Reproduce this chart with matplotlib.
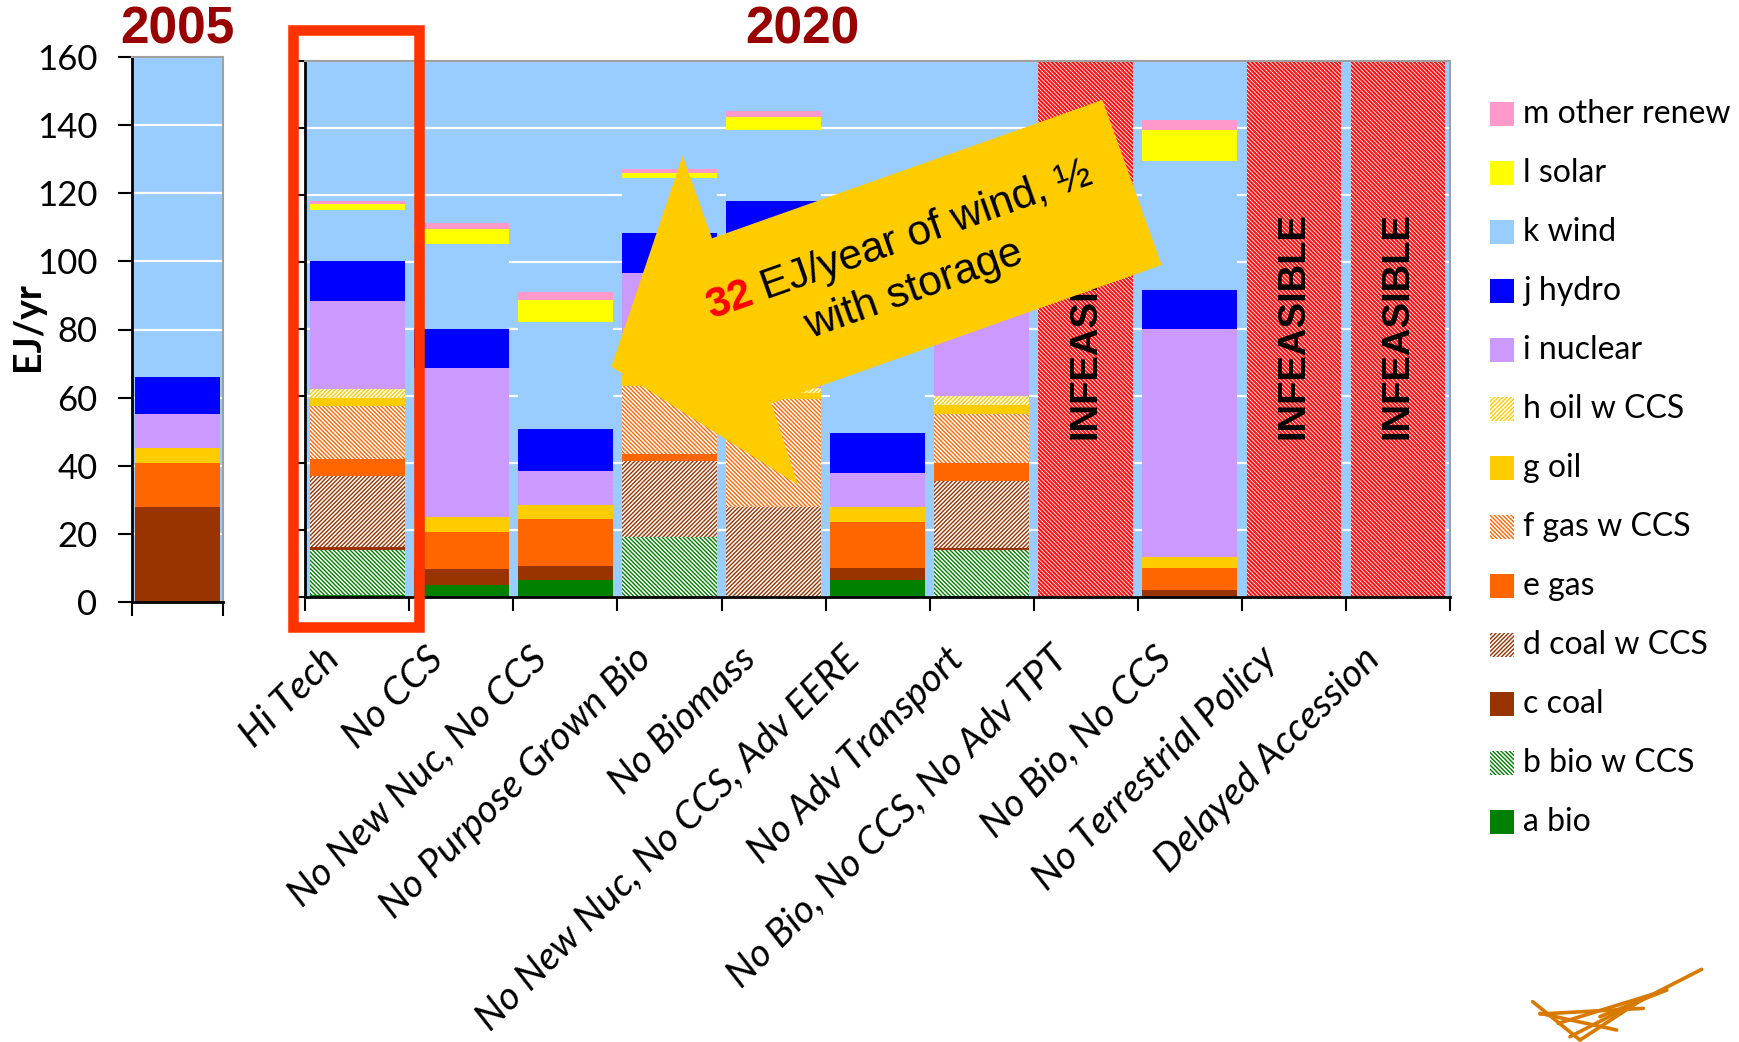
import numpy as np
import matplotlib
matplotlib.use("Agg")
import matplotlib.pyplot as plt
from matplotlib import patches, transforms
from matplotlib.lines import Line2D

# ---------------- data (EJ/yr) ----------------
scenarios = ["Hi Tech", "No CCS", "No New Nuc, No CCS", "No Purpose Grown Bio",
             "No Biomass", "No New Nuc, No CCS, Adv EERE", "No Adv Transport",
             "No Bio, No CCS, No Adv TPT", "No Bio, No CCS",
             "No Terrestrial Policy", "Delayed Accession"]
infeasible = [False, False, False, False, False, False, False, True, False, True, True]

sources = ["a bio", "b bio w CCS", "c coal", "d coal w CCS", "e gas", "f gas w CCS",
           "g oil", "h oil w CCS", "i nuclear", "j hydro", "k wind", "l solar",
           "m other renew"]

# 2005 mix, one value per source (bottom to top)
mix_2005 = [0.3, 0, 27.6, 0, 13.0, 0, 4.3, 0, 10.0, 10.9, 0, 0, 0]

# 2020 mix per source, one value per scenario
bio       = [0.5, 3.5, 5.0, 0, 0, 5.0, 0.3, 0, 0, 0, 0]
bio_ccs   = [13.3, 0, 0, 17.7, 0, 0, 13.7, 0, 0, 0, 0]
coal      = [1.1, 4.6, 4.2, 0, 0, 3.6, 0.4, 0, 2.0, 0, 0]
coal_ccs  = [21.0, 0, 0, 22.7, 26.7, 0, 20.0, 0, 0, 0, 0]
gas       = [5.2, 11.2, 14.0, 2.3, 0, 13.7, 5.4, 0, 6.6, 0, 0]
gas_ccs   = [15.8, 0, 0, 20.3, 32.2, 0, 14.8, 0, 0, 0, 0]
oil       = [2.5, 4.5, 4.2, 3.0, 2.0, 4.4, 2.5, 0, 3.3, 0, 0]
oil_ccs   = [2.7, 0, 0, 0, 1.5, 0, 2.8, 0, 0, 0, 0]
nuclear   = [26.2, 44.4, 10.2, 30.7, 43.6, 10.3, 28.5, 0, 67.9, 0, 0]
hydro     = [12.0, 11.8, 12.5, 11.9, 12.0, 11.9, 12.0, 0, 11.8, 0, 0]
wind      = [15.1, 25.2, 32.0, 16.2, 21.3, 28.0, 15.0, 0, 38.3, 0, 0]
solar     = [1.7, 4.4, 6.3, 1.7, 3.9, 5.5, 1.7, 0, 9.4, 0, 0]
other     = [1.1, 1.9, 2.6, 1.1, 1.8, 2.3, 1.1, 0, 3.0, 0, 0]
mix_2020 = [bio, bio_ccs, coal, coal_ccs, gas, gas_ccs, oil, oil_ccs,
            nuclear, hydro, wind, solar, other]

y_max = 160
y_ticks = [0, 20, 40, 60, 80, 100, 120, 140, 160]

# ---------------- styles ----------------
colors = ["#008000", "#008000", "#993300", "#993300", "#FF6600", "#FF6600",
          "#FFCC00", "#FFCC00", "#CC99FF", "#0000FF", "#99CCFF", "#FFFF00",
          "#FF99CC"]
hatches = [None, "\\" * 8, None, "/" * 8, None, "\\" * 8,
           None, "/" * 8, None, None, None, None, None]
BG = "#99CCFF"
W, H = 1740, 1042

plt.rcParams["hatch.linewidth"] = 1.0
fig = plt.figure(figsize=(W / 100, H / 100), dpi=100)
fig.patch.set_facecolor("white")


def fx(x):
    return x / W


def fy(y):
    return 1 - y / H


def style_axes(ax, ncat):
    ax.set_facecolor(BG)
    ax.set_ylim(0, y_max)
    ax.set_xlim(-0.5, ncat - 0.5)
    ax.set_yticks(y_ticks)
    ax.set_xticks(np.arange(-0.5, ncat, 1.0))
    ax.set_xticklabels([])
    ax.grid(axis="y", color="white", lw=1.6)
    ax.set_axisbelow(True)
    for s in ("left", "bottom"):
        ax.spines[s].set_color("black")
        ax.spines[s].set_linewidth(2)
    for s in ("top", "right"):
        ax.spines[s].set_color("#A0A0A0")
        ax.spines[s].set_linewidth(1.5)
    ax.tick_params(axis="both", direction="out", length=10, width=1.5,
                   color="black")


def draw_segment(ax, x, h, b, k, width):
    if h <= 0:
        return
    if hatches[k]:
        ax.bar(x, h, width, bottom=b, color="white", edgecolor=colors[k],
               hatch=hatches[k], linewidth=0, zorder=2)
    else:
        ax.bar(x, h, width, bottom=b, color=colors[k], linewidth=0, zorder=2)


# ---------------- 2005 panel ----------------
ax05 = fig.add_axes([fx(132.3), fy(602), fx(223.3 - 132.3), (602 - 57) / H])
style_axes(ax05, 1)
bottom = 0.0
for k, v in enumerate(mix_2005):
    draw_segment(ax05, 0, v, bottom, k, 0.93)
    bottom += v
ax05.set_yticklabels([str(t) for t in y_ticks], fontfamily="Lato",
                     fontsize=25)
ax05.tick_params(axis="y", pad=15)

# ---------------- 2020 panel ----------------
ax20 = fig.add_axes([fx(305.3), fy(596.6), fx(1450 - 305.3), (596.6 - 60.5) / H])
style_axes(ax20, len(scenarios))
ax20.set_yticklabels([])
xs = np.arange(len(scenarios))
bottoms = np.zeros(len(scenarios))
for k, series in enumerate(mix_2020):
    for i, v in enumerate(series):
        draw_segment(ax20, xs[i], v, bottoms[i], k, 0.91)
    bottoms += np.array(series)

plt.rcParams["hatch.linewidth"] = 0.6
for i, flag in enumerate(infeasible):
    if flag:
        ax20.bar(xs[i], y_max, 0.91, color="#FF1010", edgecolor="white",
                 hatch="\\" * 8, linewidth=0, zorder=2)
        ax20.text(xs[i], 81, "INFEASIBLE", rotation=90, ha="center",
                  va="center", fontfamily="Liberation Sans", fontweight="bold",
                  fontsize=27.5, color="black", zorder=3)

# category labels, rotated
lab_tr = ax20.get_xaxis_transform() + transforms.ScaledTranslation(
    0, -0.44, fig.dpi_scale_trans)
for i, name in enumerate(scenarios):
    ax20.text(xs[i] - 0.35, 0, name, transform=lab_tr, rotation=45,
              rotation_mode="anchor", ha="right", va="top",
              fontfamily="Lato", fontstyle="italic", fontsize=28,
              clip_on=False)

# ---------------- titles and axis label ----------------
fig.text(fx(177.5), fy(30), "2005", ha="center", va="center",
         fontfamily="Liberation Sans", fontweight="bold", fontsize=37,
         color="#990000")
fig.text(fx(802), fy(30), "2020", ha="center", va="center",
         fontfamily="Liberation Sans", fontweight="bold", fontsize=37,
         color="#990000")
fig.text(fx(28), fy(326.5), "EJ/yr", rotation=90, ha="center", va="center",
         fontfamily="Lato", fontweight="bold", fontsize=27)

# highlight box around the Hi Tech scenario
fig.patches.append(patches.Rectangle((fx(292.8), fy(626.7)),
                                     fx(418.7 - 292.8), (626.7 - 30) / H,
                                     transform=fig.transFigure, fill=False,
                                     edgecolor="#FF3300", linewidth=7.6,
                                     zorder=5))

# ---------------- legend ----------------
plt.rcParams["hatch.linewidth"] = 1.0
for row, k in enumerate(range(len(sources) - 1, -1, -1)):
    yc = 114.3 + 59 * row
    if hatches[k]:
        sq = patches.Rectangle((fx(1490), fy(yc + 12)), fx(24), 24 / H,
                               transform=fig.transFigure, facecolor="white",
                               edgecolor=colors[k], hatch=hatches[k],
                               linewidth=0)
    else:
        sq = patches.Rectangle((fx(1490), fy(yc + 12)), fx(24), 24 / H,
                               transform=fig.transFigure, facecolor=colors[k],
                               linewidth=0)
    fig.patches.append(sq)
    fig.text(fx(1523), fy(yc), sources[k], ha="left", va="center",
             fontfamily="Lato", fontsize=23)

# ---------------- callout arrow ----------------
arrow_px = [(682.6, 156), (712.0, 238.3), (1102.4, 100), (1161.7, 265),
            (771.4, 403.3), (798.1, 485), (611.4, 366.7)]
fig.patches.append(patches.Polygon([(fx(x), fy(y)) for x, y in arrow_px],
                                   closed=True, transform=fig.transFigure,
                                   facecolor="#FFCC00", edgecolor="none",
                                   zorder=6))

ang = 19.5
ca, sa = np.cos(np.radians(ang)), np.sin(np.radians(ang))
renderer = fig.canvas.get_renderer()
font_kw = dict(fontfamily="Liberation Sans", fontsize=30.5)
t1 = fig.text(0, 0, "32", fontweight="bold", **font_kw)
t2 = fig.text(0, 0, " EJ/year of wind, \u00bd", **font_kw)
w1 = t1.get_window_extent(renderer).width
w2 = t2.get_window_extent(renderer).width
t1.remove()
t2.remove()
cx, cy = 902.7, H - 251.1
sx, sy = cx - (w1 + w2) / 2 * ca, cy - (w1 + w2) / 2 * sa
ident = transforms.IdentityTransform()
fig.text(sx, sy, "32", transform=ident, rotation=ang, rotation_mode="anchor",
         ha="left", va="baseline", color="#FF0000", fontweight="bold",
         zorder=7, **font_kw)
fig.text(sx + w1 * ca, sy + w1 * sa, " EJ/year of wind, \u00bd",
         transform=ident, rotation=ang, rotation_mode="anchor", ha="left",
         va="baseline", color="black", zorder=7, **font_kw)
fig.text(917.6, H - 300.0, "with storage", transform=ident, rotation=ang,
         rotation_mode="anchor", ha="center", va="baseline", color="black",
         zorder=7, **font_kw)

# ---------------- corner logo ----------------
logo_strokes = [((98, 185), (240, 300)), ((120, 220), (350, 270)),
                ((175, 250), (500, 150)), ((210, 290), (605, 88)),
                ((120, 222), (430, 205)), ((240, 300), (440, 170)),
                ((300, 230), (500, 150))]
for (x0, y0), (x1, y1) in logo_strokes:
    fig.lines.append(Line2D([fx(1500 + x0 / 3), fx(1500 + x1 / 3)],
                            [fy(940 + y0 / 3), fy(940 + y1 / 3)],
                            transform=fig.transFigure, color="#D97A00",
                            lw=2.6, solid_capstyle="round"))

fig.savefig("out.png", dpi=100)
